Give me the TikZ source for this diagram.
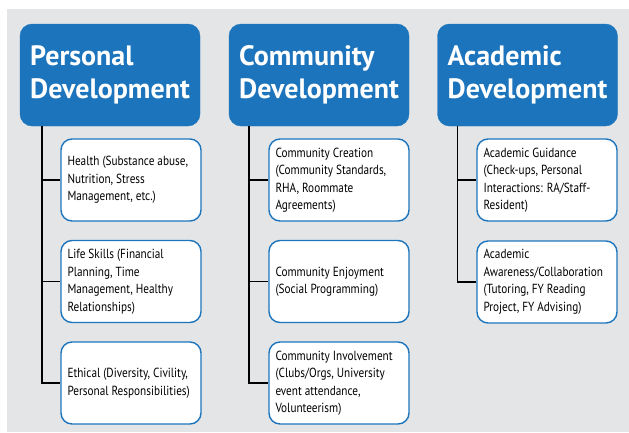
\documentclass[tikz,border=0pt]{standalone}
\usepackage{fontspec}
\setmainfont{PT Sans}
\newfontfamily\bodyfont[FakeStretch=0.85]{PT Sans}
\definecolor{hdrblue}{HTML}{1C75BC}
\definecolor{bggray}{HTML}{E4E5E6}
\begin{document}
\begin{tikzpicture}[x=1pt,y=-1pt,
  hdr/.style={draw=hdrblue, fill=hdrblue, rounded corners=12pt, minimum width=180pt, minimum height=102pt, text=white, font=\fontsize{28}{33}\selectfont\bfseries, align=left, inner sep=0pt},
  item/.style={draw=hdrblue, line width=1.4pt, fill=white, rounded corners=11pt, minimum width=140pt, minimum height=82pt, text width=127pt, inner xsep=6.5pt, inner ysep=0pt, align=flush left, font=\bodyfont\fontsize{13.2}{17.5}\selectfont},
  link/.style={draw=black, line width=1.5pt}]
\useasboundingbox (0,0) rectangle (629,432);
\fill[bggray] (7,9) rectangle (629,432);

\node[hdr] (ph) at (110,75) {Personal\\Development};
\node[hdr] (ch) at (319,75) {Community\\Development};
\node[hdr] (ah) at (527.5,75) {Academic\\Development};

\node[item] (p1) at (131,180) {Health (Substance abuse,\\Nutrition, Stress\\Management, etc.)};
\node[item] (p2) at (131,281.5) {Life Skills (Financial\\Planning, Time\\Management, Healthy\\Relationships)};
\node[item] (p3) at (131,383) {Ethical (Diversity, Civility,\\Personal Responsibilities)};

\node[item] (c1) at (339,180) {Community Creation\\(Community Standards,\\RHA, Roommate\\Agreements)};
\node[item] (c2) at (339,281.5) {Community Enjoyment\\(Social Programming)};
\node[item] (c3) at (339,383) {Community Involvement\\(Clubs/Orgs, University\\event attendance,\\Volunteerism)};

\node[item] (a1) at (547,180) {Academic Guidance\\(Check-ups, Personal\\Interactions: RA/Staff-\\Resident)};
\node[item] (a2) at (547,282) {Academic\\Awareness/Collaboration\\(Tutoring, FY Reading\\Project, FY Advising)};

\draw[link] ([xshift=22pt]ph.south west) |- (p1.west);
\draw[link] ([xshift=22pt]ph.south west) |- (p2.west);
\draw[link] ([xshift=22pt]ph.south west) |- (p3.west);
\draw[link] ([xshift=20pt]ch.south west) |- (c1.west);
\draw[link] ([xshift=20pt]ch.south west) |- (c2.west);
\draw[link] ([xshift=20pt]ch.south west) |- (c3.west);
\draw[link] ([xshift=20pt]ah.south west) |- (a1.west);
\draw[link] ([xshift=20pt]ah.south west) |- (a2.west);
\end{tikzpicture}
\end{document}
